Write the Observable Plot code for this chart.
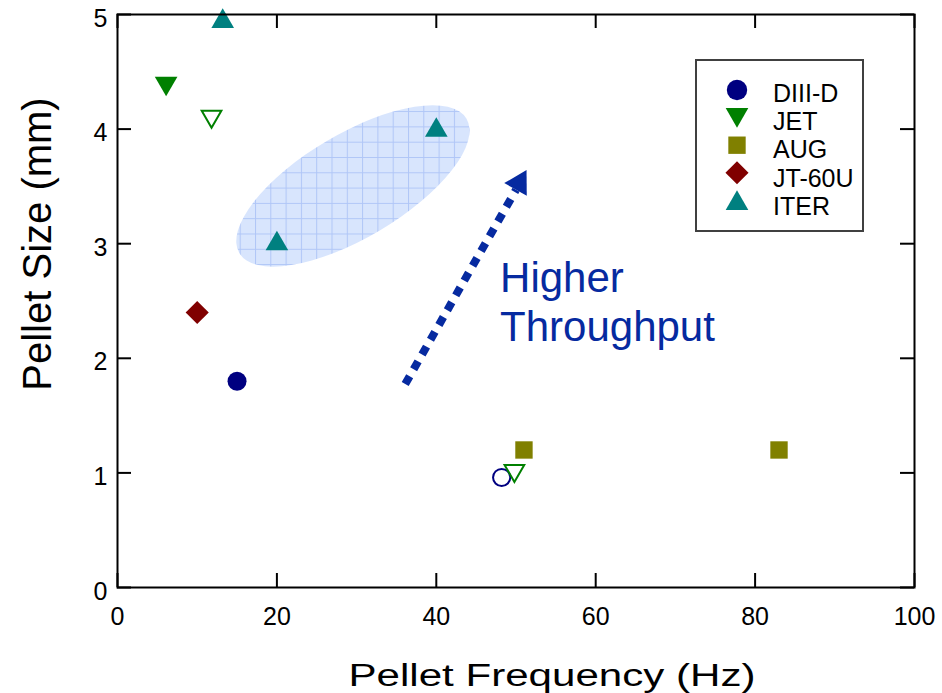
<!DOCTYPE html>
<html><head><meta charset="utf-8">
<script src="https://cdn.jsdelivr.net/npm/d3@7"></script>
<script src="https://cdn.jsdelivr.net/npm/@observablehq/plot@0.6"></script>
<style>
body{margin:0;background:#fff;}
#chart{position:relative;width:942px;height:693px;}
</style></head><body><div id="chart"></div>
<script>
// ---- data ----
const series = ["DIII-D","JET","AUG","JT-60U","ITER"];
const seriesColors = ["#000080","#008000","#808000","#800000","#008080"];
const seriesSymbols = ["circle","triangle","square","diamond2","triangle"];
const seriesRotate = [0,180,0,0,0];

const pointDevice = ["DIII-D","DIII-D","JET","JET","JET","AUG","AUG","JT-60U","ITER","ITER","ITER"];
const pointFreq   = [15.0, 48.2, 6.1, 11.8, 49.8, 51.0, 83.0, 10.0, 13.2, 20.0, 40.0];
const pointSize   = [1.80, 0.96, 4.40, 4.11, 1.02, 1.20, 1.20, 2.40, 4.94, 3.00, 3.99];
const pointFilled = [true, false, true, false, false, true, true, true, true, true, true];

const xTicks = [0,20,40,60,80,100];
const yTicks = [0,1,2,3,4,5];
const xTitle = "Pellet Frequency (Hz)";
const yTitle = "Pellet Size (mm)";

const noteText = ["Higher\nThroughput"];
const noteX = [48.0];
const noteY = [2.153];
const arrowFrom = [36.1, 1.776];
const arrowTo = [50.0, 3.47];
const arrowHead = [50.4, 3.53];
const regionCenter = [29.6, 3.50];

// ---- layout / style ----
const W = 942, H = 693, mL = 117, mR = 28, mT = 14, mB = 106;
const plotW = W - mL - mR, plotH = H - mT - mB, tickLen = 14;
const blue = "#062aa0";
const font = "'Liberation Sans', Arial, Helvetica, sans-serif";
const fillR = {circle: 9.5, triangle: 8.4, square: 9.8, diamond2: 10.4};
const openR = {circle: 8.6, triangle: 7.3, square: 8.8, diamond2: 9.4};

const rows = pointFreq.map((f, i) => ({freq: f, size: pointSize[i], device: pointDevice[i], filled: pointFilled[i]}));

function regionMark(index, scales) {
  const g = d3.create("svg:g");
  const cx = scales.x(regionCenter[0]), cy = scales.y(regionCenter[1]);
  const p = g.append("defs").append("pattern")
    .attr("id", "gridfill").attr("patternUnits", "userSpaceOnUse")
    .attr("width", 15.3).attr("height", 15.3).attr("x", 255).attr("y", 141.7)
    .attr("patternTransform", `rotate(30.6 ${cx} ${cy})`);
  p.append("rect").attr("width", 15.3).attr("height", 15.3).attr("fill", "#d8e5fd");
  p.append("path").attr("d", "M0,0.5H15.3M0.5,0V15.3").attr("stroke", "#b0c6f7").attr("stroke-width", 1);
  g.append("ellipse").attr("cx", cx).attr("cy", cy).attr("rx", 132).attr("ry", 52)
    .attr("transform", `rotate(-30.6 ${cx} ${cy})`).attr("fill", "url(#gridfill)");
  return g.node();
}

const dotMarks = series.flatMap((s, i) => {
  const sym = seriesSymbols[i], col = seriesColors[i], rot = seriesRotate[i];
  return [
    Plot.dot(rows.filter(d => d.device === s && d.filled), {x: "freq", y: "size", symbol: sym, r: fillR[sym], rotate: rot, fill: col, stroke: "none"}),
    Plot.dot(rows.filter(d => d.device === s && !d.filled), {x: "freq", y: "size", symbol: sym, r: openR[sym], rotate: rot, fill: "none", stroke: col, strokeWidth: 2})
  ];
});

const chart = Plot.plot({
  width: W, height: H,
  marginLeft: mL, marginRight: mR, marginTop: mT, marginBottom: mB,
  style: {fontFamily: font, background: "#fff", color: "#000"},
  x: {domain: [0, 100], label: null},
  y: {domain: [0, 5], label: null},
  marks: [
    regionMark,
    Plot.link([{x1: arrowFrom[0], y1: arrowFrom[1], x2: arrowTo[0], y2: arrowTo[1]}],
      {x1: "x1", y1: "y1", x2: "x2", y2: "y2", stroke: blue, strokeWidth: 8, strokeDasharray: "9,8", strokeLinecap: "butt"}),
    Plot.dot([arrowHead], {x: d => d[0], y: d => d[1], symbol: "triangle", r: 9.6, rotate: 29.5, fill: blue}),
    Plot.text(noteText.map((t, i) => ({t, x: noteX[i], y: noteY[i]})),
      {x: "x", y: "y", text: "t", textAnchor: "start", lineAnchor: "bottom", lineHeight: 1.15, fontSize: 42, fill: blue}),
    ...dotMarks,
    Plot.frame({stroke: "#000", strokeWidth: 2}),
    Plot.tickX(xTicks, {x: d => d, insetTop: plotH - tickLen, stroke: "#000", strokeWidth: 2}),
    Plot.tickX(xTicks, {x: d => d, insetBottom: plotH - tickLen, stroke: "#000", strokeWidth: 2}),
    Plot.tickY(yTicks, {y: d => d, insetRight: plotW - tickLen, stroke: "#000", strokeWidth: 2}),
    Plot.tickY(yTicks, {y: d => d, insetLeft: plotW - tickLen, stroke: "#000", strokeWidth: 2}),
    Plot.axisX({ticks: xTicks, tickFormat: d3.format("d"), tickSize: 0, tickPadding: 20, fontSize: 25, label: null}),
    Plot.axisY({ticks: yTicks, tickFormat: d3.format("d"), tickSize: 0, tickPadding: 10, fontSize: 25, dy: 4, label: null}),
    Plot.text([xTitle], {text: d => d, frameAnchor: "bottom", textAnchor: "middle", dx: 36, dy: 98, lineAnchor: "bottom", fontSize: 31}),
    Plot.text([yTitle], {text: d => d, frameAnchor: "left", textAnchor: "middle", rotate: -90, dx: -67, dy: -57, lineAnchor: "bottom", fontSize: 40})
  ]
});

document.getElementById("chart").appendChild(chart);

// stretch the x title to the reference's width
d3.select(chart).selectAll("text").filter(function () { return this.textContent === xTitle; })
  .attr("textLength", 407).attr("lengthAdjust", "spacingAndGlyphs");

// legend box
const lg = d3.select(chart).append("g").attr("text-anchor", "start");
lg.append("rect").attr("x", 696).attr("y", 60).attr("width", 167).attr("height", 171)
  .attr("fill", "#fff").attr("stroke", "#404040").attr("stroke-width", 2);
const symMap = {circle: d3.symbolCircle, triangle: d3.symbolTriangle, square: d3.symbolSquare, diamond2: d3.symbolDiamond2};
const legendR = {circle: 10.2, triangle: 8.4, square: 9.8, diamond2: 10.4};
series.forEach((s, i) => {
  const sym = seriesSymbols[i];
  const r = legendR[sym];
  let cy = 90 + 27.6 * i;
  if (sym === "triangle") cy += seriesRotate[i] === 180 ? -3 : 3;
  lg.append("path").attr("d", d3.symbol(symMap[sym], Math.PI * r * r)())
    .attr("transform", `translate(737,${cy}) rotate(${seriesRotate[i]})`)
    .attr("fill", seriesColors[i]);
  lg.append("text").attr("x", 773).attr("y", 101.7 + 28.3 * i).attr("text-anchor", "start")
    .attr("font-size", 25).attr("font-family", font).attr("fill", "#000").text(s);
});
</script></body></html>
